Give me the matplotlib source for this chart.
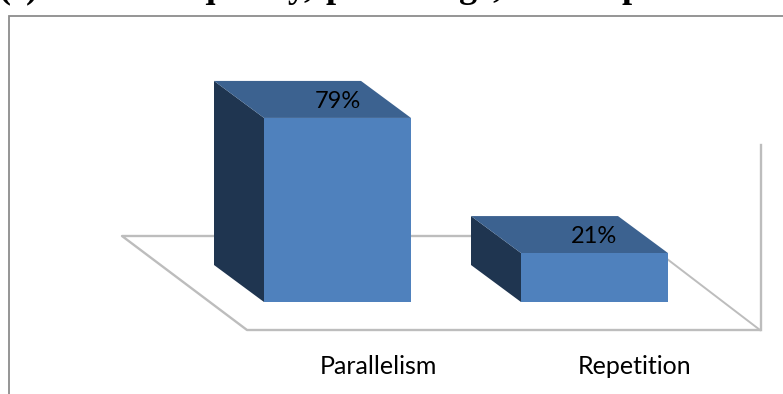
import matplotlib
matplotlib.use("Agg")
import matplotlib.pyplot as plt
from matplotlib.patches import Polygon

categories = ["Parallelism", "Repetition"]
percentages = [79, 21]
value_labels = ["79%", "21%"]
category_label_px = [378, 635]

W, H = 783, 394
BASE_PX = 302        # pixel row of the bars' front bottom edge
PX_PER_PCT = 2.33
PX_PER_CAT = 257
FIRST_CENTER_PX = 337.5
BAR_WIDTH = 147 / PX_PER_CAT
DEPTH_X = -50 / PX_PER_CAT
DEPTH_Y = 37 / PX_PER_PCT

FRONT = "#4f81bd"
SIDE = "#1f3550"
TOP = "#3c6290"
FLOOR_LINE = "#bdbdbd"
BORDER = "#8c8c8c"

plt.rcParams['font.family'] = ['Lato', 'DejaVu Sans']

fig = plt.figure(figsize=(W / 100, H / 100), dpi=100, facecolor="white")

# backdrop in pixel units: outer border, floor, back wall edge, texts
frame = fig.add_axes([0, 0, 1, 1], zorder=1)
frame.set_xlim(0, W)
frame.set_ylim(H, 0)
frame.axis("off")

frame.plot([9, 9, W], [H, 15.5, 15.5], color=BORDER, lw=1.3, solid_joinstyle="miter")
frame.plot([637, 122, 247, 760], [236, 236, 330, 330], color=FLOOR_LINE, lw=1.7)
frame.plot([637, 760], [236, 330], color=FLOOR_LINE, lw=1.4)
frame.plot([761, 761], [145, 330], color=FLOOR_LINE, lw=1.7)

# heading sits mostly above the top edge, only the descenders stay visible
heading = [(-2, "(c)"), (153, "frequency,"), (325, "percentage,"), (622, "percent")]
for x, word in heading:
    frame.text(x, -3, word, family="Liberation Serif", weight="bold", fontsize=26,
               ha="left", va="baseline", color="black")

# bars in category / percent units
ax = fig.add_axes([0, 0, 1, 1], zorder=2)
ax.patch.set_alpha(0)
ax.axis("off")
ax.set_xlim(-FIRST_CENTER_PX / PX_PER_CAT, (W - FIRST_CENTER_PX) / PX_PER_CAT)
ax.set_ylim(-(H - BASE_PX) / PX_PER_PCT, BASE_PX / PX_PER_PCT)

for i, (value, lab) in enumerate(zip(percentages, value_labels)):
    x0 = i - BAR_WIDTH / 2
    x1 = i + BAR_WIDTH / 2
    ax.add_patch(Polygon([(x0, 0), (x0 + DEPTH_X, DEPTH_Y), (x0 + DEPTH_X, value + DEPTH_Y), (x0, value)],
                         facecolor=SIDE, edgecolor="none"))
    ax.add_patch(Polygon([(x0, value), (x0 + DEPTH_X, value + DEPTH_Y), (x1 + DEPTH_X, value + DEPTH_Y), (x1, value)],
                         facecolor=TOP, edgecolor="none"))
    ax.add_patch(Polygon([(x0, 0), (x1, 0), (x1, value), (x0, value)],
                         facecolor=FRONT, edgecolor="none"))
    ax.text(i, value + DEPTH_Y * 0.45, lab, ha="center", va="center", fontsize=17, color="black")

for cat, x in zip(categories, category_label_px):
    frame.text(x, 366, cat, ha="center", va="center", fontsize=18, color="black")

fig.savefig("out.png", dpi=100)
